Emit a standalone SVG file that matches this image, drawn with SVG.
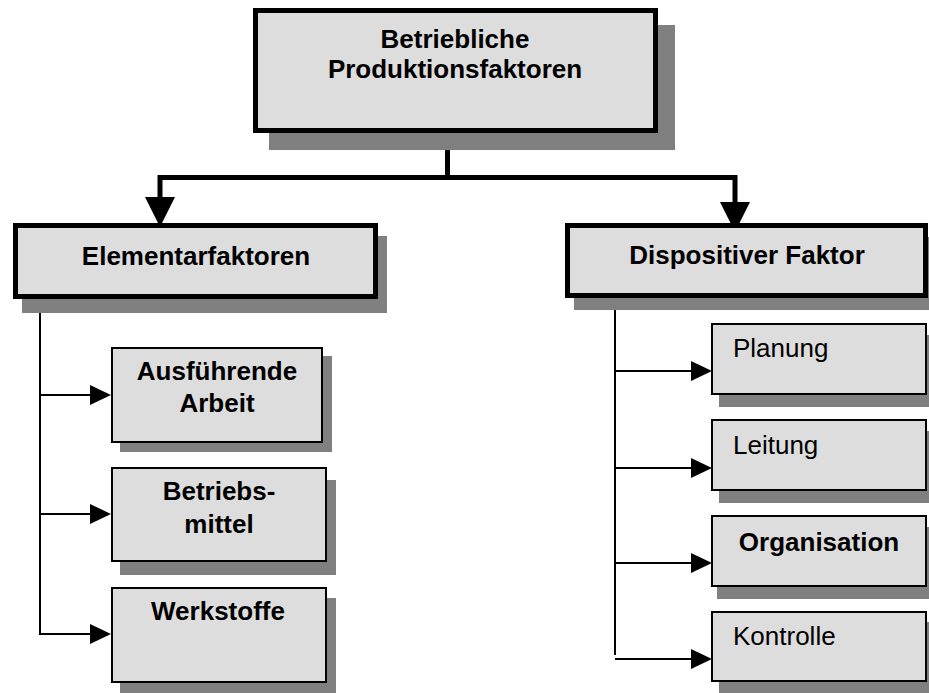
<svg xmlns="http://www.w3.org/2000/svg" width="929" height="693" viewBox="0 0 929 693">
  <style>
    .shadow { fill: #808080; }
    .box { fill: #dddddd; stroke: #000; }
    .thick { stroke-width: 5; }
    .thin { stroke-width: 2; }
    .lbl { font-family: "Liberation Sans", Arial, sans-serif; font-size: 26px; fill: #000; }
    .b { font-weight: bold; }
    .c { text-anchor: middle; }
    .wire { fill: none; stroke: #000; stroke-linejoin: miter; }
    .head { fill: #000; }
  </style>
  <rect width="929" height="693" fill="#fff"/>

  <!-- connectors -->
  <g id="connectors">
    <path class="wire" stroke-width="5" d="M447.5,131 V178 M160,198 V177.5 H735 V203"/>
    <polygon class="head" points="145,197 175,197 160,227"/>
    <polygon class="head" points="720,202 750,202 735,232"/>
    <path class="wire" stroke-width="2" d="M40,298 V634 H92 M40,395 H92 M40,514 H92"/>
    <polygon class="head" points="90,385 111,395 90,405"/>
    <polygon class="head" points="90,504 111,514 90,524"/>
    <polygon class="head" points="90,624 111,634 90,644"/>
    <path class="wire" stroke-width="2" d="M615,298 V655 M615,371 H693 M615,468 H693 M615,563 H693 M615,659 H693"/>
    <polygon class="head" points="691,361 712,371 691,381"/>
    <polygon class="head" points="691,458 712,468 691,478"/>
    <polygon class="head" points="691,553 712,563 691,573"/>
    <polygon class="head" points="691,649 712,659 691,669"/>
  </g>

  <g id="produktionsfaktoren">
    <rect class="shadow" x="269" y="25" width="406" height="125"/>
    <rect class="box thick" x="255.5" y="10.5" width="400" height="120"/>
    <text class="lbl b c" x="455" y="48">Betriebliche</text>
    <text class="lbl b c" x="455" y="78">Produktionsfaktoren</text>
  </g>

  <g id="elementarfaktoren">
    <rect class="shadow" x="22" y="236" width="365" height="77"/>
    <rect class="box thick" x="15.5" y="225.5" width="360" height="71"/>
    <text class="lbl b c" x="196" y="265">Elementarfaktoren</text>
  </g>

  <g id="dispositiver-faktor">
    <rect class="shadow" x="574" y="237" width="370" height="73"/>
    <rect class="box thick" x="567.5" y="225.5" width="358" height="70"/>
    <text class="lbl b c" x="747" y="264">Dispositiver Faktor</text>
  </g>

  <g id="ausfuehrende-arbeit">
    <rect class="shadow" x="120" y="356" width="212" height="96"/>
    <rect class="box thin" x="112" y="348" width="210" height="94"/>
    <text class="lbl b c" x="217" y="380">Ausführende</text>
    <text class="lbl b c" x="217" y="412">Arbeit</text>
  </g>

  <g id="betriebsmittel">
    <rect class="shadow" x="120" y="480" width="216" height="95"/>
    <rect class="box thin" x="112" y="468" width="214" height="93"/>
    <text class="lbl b c" x="219" y="500">Betriebs-</text>
    <text class="lbl b c" x="219" y="533">mittel</text>
  </g>

  <g id="werkstoffe">
    <rect class="shadow" x="120" y="598" width="216" height="95"/>
    <rect class="box thin" x="112" y="588" width="214" height="94"/>
    <text class="lbl b c" x="218" y="620">Werkstoffe</text>
  </g>

  <g id="planung">
    <rect class="shadow" x="719" y="335" width="220" height="72"/>
    <rect class="box thin" x="712" y="324" width="214" height="70"/>
    <text class="lbl" x="733" y="357">Planung</text>
  </g>

  <g id="leitung">
    <rect class="shadow" x="719" y="431" width="220" height="72"/>
    <rect class="box thin" x="712" y="420" width="214" height="70"/>
    <text class="lbl" x="733" y="454">Leitung</text>
  </g>

  <g id="organisation">
    <rect class="shadow" x="717" y="527" width="222" height="72"/>
    <rect class="box thin" x="712" y="516" width="214" height="70"/>
    <text class="lbl b c" x="819" y="551">Organisation</text>
  </g>

  <g id="kontrolle">
    <rect class="shadow" x="719" y="622" width="220" height="78"/>
    <rect class="box thin" x="712" y="612" width="214" height="69"/>
    <text class="lbl" x="733" y="645">Kontrolle</text>
  </g>
</svg>
